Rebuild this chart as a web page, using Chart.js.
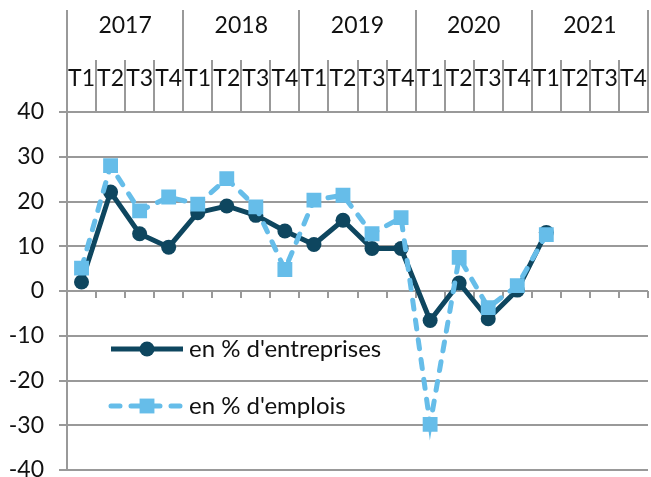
<!DOCTYPE html>
<html>
<head>
<meta charset="utf-8">
<script src="https://cdn.jsdelivr.net/npm/chart.js@4.4.1/dist/chart.umd.min.js"></script>
<style>
  html, body { margin: 0; padding: 0; background: #fff; }
</style>
</head>
<body>
<canvas id="chart" width="651" height="477"></canvas>
<script>
const years = ['2017', '2018', '2019', '2020', '2021'];
const quarterNames = ['T1', 'T2', 'T3', 'T4'];
const quarters = years.flatMap(() => quarterNames);

const entreprises = [2.0, 22.1, 12.8, 9.8, 17.5, 19.0, 16.9, 13.4, 10.4, 15.8,
                     9.5, 9.5, -6.6, 1.8, -6.2, 0.2, 13.1, null, null, null];
const emplois = [5.1, 28.0, 17.9, 21.0, 19.4, 25.1, 18.8, 4.8, 20.3, 21.4,
                 12.8, 16.4, -29.8, 7.5, -3.7, 1.2, 12.6, null, null, null];

const yTicks = [-40, -30, -20, -10, 0, 10, 20, 30, 40];

const dark = '#0e465f';
const light = '#66bde9';
const gridColor = '#999999';
const textColor = '#111111';
const fontFamily = 'Lato, "Open Sans", sans-serif';

// small tick marks hanging under the zero line, one per quarter boundary
const zeroTicks = {
  id: 'zeroTicks',
  beforeDatasetsDraw(chart) {
    const { ctx, scales: { x, y } } = chart;
    const y0 = Math.round(y.getPixelForValue(0));
    ctx.save();
    ctx.strokeStyle = gridColor;
    ctx.lineWidth = 2;
    ctx.beginPath();
    for (let i = 0; i <= quarters.length; i++) {
      const px = Math.round(x.getPixelForValue(i - 0.5));
      ctx.moveTo(px, y0);
      ctx.lineTo(px, y0 + 7);
    }
    ctx.stroke();
    ctx.restore();
  }
};

// legend drawn inside the plot, like the original
const plotLegend = {
  id: 'plotLegend',
  afterDraw(chart) {
    const { ctx, chartArea } = chart;
    const rows = [349, 406];
    chart.data.datasets.forEach((ds, i) => {
      const y = rows[i];
      const x0 = chartArea.left + 44;
      const x1 = x0 + 72;
      const mx = (x0 + x1) / 2;
      ctx.save();
      ctx.strokeStyle = ds.borderColor;
      ctx.lineWidth = ds.borderWidth;
      ctx.lineCap = ds.borderCapStyle || 'butt';
      ctx.setLineDash(ds.borderDash || []);
      ctx.beginPath();
      ctx.moveTo(x0, y);
      ctx.lineTo(x1, y);
      ctx.stroke();
      ctx.setLineDash([]);
      ctx.fillStyle = ds.backgroundColor;
      if (ds.pointStyle === 'rect') {
        const s = Math.SQRT1_2 * ds.pointRadius;
        ctx.fillRect(mx - s, y - s, 2 * s, 2 * s);
      } else {
        ctx.beginPath();
        ctx.arc(mx, y, ds.pointRadius, 0, Math.PI * 2);
        ctx.fill();
      }
      ctx.fillStyle = textColor;
      ctx.font = '24px ' + fontFamily;
      ctx.textBaseline = 'middle';
      ctx.fillText(ds.label, x1 + 6, y);
      ctx.restore();
    });
  }
};

// no extra room for overflowing edge labels, the plot fills the frame
const noEdgePadding = (scale) => {
  scale.paddingTop = 0;
  scale.paddingBottom = 0;
  scale.paddingLeft = 0;
  scale.paddingRight = 0;
};

new Chart(document.getElementById('chart'), {
  type: 'line',
  data: {
    labels: quarters,
    datasets: [
      {
        label: "en % d'entreprises",
        data: entreprises,
        borderColor: dark,
        backgroundColor: dark,
        borderWidth: 5,
        pointStyle: 'circle',
        pointRadius: 7.5,
        pointBorderWidth: 0,
        tension: 0,
        order: 1
      },
      {
        label: "en % d'emplois",
        data: emplois,
        borderColor: light,
        backgroundColor: light,
        borderWidth: 5,
        borderDash: [9, 11],
        borderCapStyle: 'round',
        pointStyle: 'rect',
        pointRadius: 10.5,
        pointBorderWidth: 0,
        tension: 0,
        order: 0
      }
    ]
  },
  options: {
    responsive: false,
    animation: false,
    layout: { autoPadding: false, padding: { top: 10, right: 3, bottom: 7, left: 0 } },
    plugins: {
      legend: { display: false },
      tooltip: { enabled: false }
    },
    scales: {
      y: {
        min: -40,
        max: 40,
        afterBuildTicks: (scale) => { scale.ticks = yTicks.map(v => ({ value: v })); },
        afterFit: (scale) => { scale.width = 67; noEdgePadding(scale); },
        grid: { color: gridColor, lineWidth: 2, tickLength: 8 },
        border: { color: gridColor, width: 2 },
        ticks: { color: textColor, font: { family: fontFamily, size: 23 }, padding: 15 }
      },
      x: {
        type: 'category',
        position: 'top',
        labels: quarters,
        offset: true,
        afterFit: (scale) => { scale.height = 52; noEdgePadding(scale); },
        grid: { offset: true, drawOnChartArea: false, tickLength: 52, color: gridColor, lineWidth: 2 },
        border: { color: gridColor, width: 2 },
        ticks: {
          color: textColor, font: { family: fontFamily, size: 23 },
          padding: -32, maxRotation: 0, autoSkip: false
        }
      },
      x2: {
        type: 'category',
        position: 'top',
        weight: 1,
        labels: years,
        offset: true,
        afterFit: (scale) => { scale.height = 50; noEdgePadding(scale); },
        grid: { offset: true, drawOnChartArea: false, tickLength: 50, color: gridColor, lineWidth: 2 },
        border: { display: false },
        ticks: {
          color: textColor, font: { family: fontFamily, size: 23 },
          padding: -29, maxRotation: 0, autoSkip: false
        }
      }
    }
  },
  plugins: [zeroTicks, plotLegend]
});
</script>
</body>
</html>
